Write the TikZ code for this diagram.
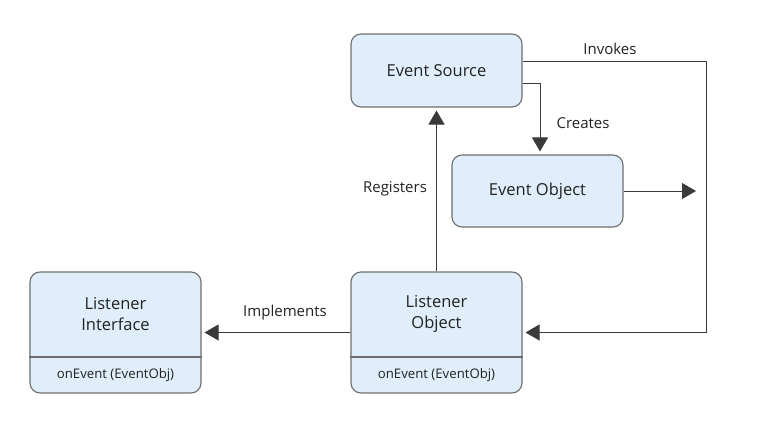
\documentclass[tikz,border=0pt]{standalone}
\usepackage{fontspec}
\setmainfont{Open Sans}
\usetikzlibrary{arrows.meta}
\definecolor{boxfill}{HTML}{DFEEFA}
\definecolor{boxline}{HTML}{6E6E6E}
\definecolor{conn}{HTML}{3A3A3A}
\definecolor{txt}{HTML}{222222}
\tikzset{
  box/.style={draw=boxline, fill=boxfill, line width=1.1pt, rounded corners=10pt,
    minimum width=171pt, inner sep=0pt, text=txt, font=\fontsize{16.5}{21}\selectfont},
  smalltxt/.style={text=txt, font=\fontsize{13.2}{15}\selectfont, inner sep=0pt},
  lbl/.style={text=txt, font=\fontsize{15}{18}\selectfont, inner sep=0pt},
  arr/.style={draw=conn, line width=0.9pt, -{Triangle[length=14pt,width=16pt]}, shorten >=3pt},
}
\begin{document}
\begin{tikzpicture}[x=1pt,y=-1pt]
\useasboundingbox (0,0) rectangle (774,439);
% boxes
\node[box, minimum height=73pt] (es) at (436.5,70.5) {Event Source};
\node[box, minimum height=72pt] (eo) at (537.5,191) {Event Object};
\node[box, minimum height=121pt] (li) at (115.5,332.5) {};
\node[box, minimum height=121pt] (lo) at (436.5,332.5) {};
\draw[boxline, line width=1.1pt] (li.west |- 0,357) -- (li.east |- 0,357);
\draw[boxline, line width=1.1pt] (lo.west |- 0,357) -- (lo.east |- 0,357);
\node[box, draw=none, fill=none, minimum width=0pt, align=center] (lit) at (115.5,314) {Listener\\Interface};
\node[box, draw=none, fill=none, minimum width=0pt, align=center] (lot) at (436.5,314) {Listener\\Object};
\node[smalltxt] (lim) at (115.5,375.5) {onEvent (EventObj)};
\node[smalltxt] (lom) at (436.5,375.5) {onEvent (EventObj)};
% coordinates
\coordinate (rc) at (706,61);
\coordinate (eotip) at (699,191);
% connectors
\draw[arr] (lo.north) -- (es.south);
\draw[arr] ([yshift=-12.5pt]es.east) -| ([xshift=2.5pt]eo.north);
\draw[arr] ([yshift=9.5pt]es.east) -| (rc) |- (lo.east);
\draw[arr] (eo.east) -- (eotip);
\draw[arr] (lo.west) -- (li.east);
% labels
\node[lbl] (linv) at (610,49) {Invokes};
\node[lbl] (lcre) at (583,123) {Creates};
\node[lbl] (lreg) at (395,189) {Registers};
\node[lbl] (limp) at (285,313) {Implements};
\end{tikzpicture}
\end{document}
